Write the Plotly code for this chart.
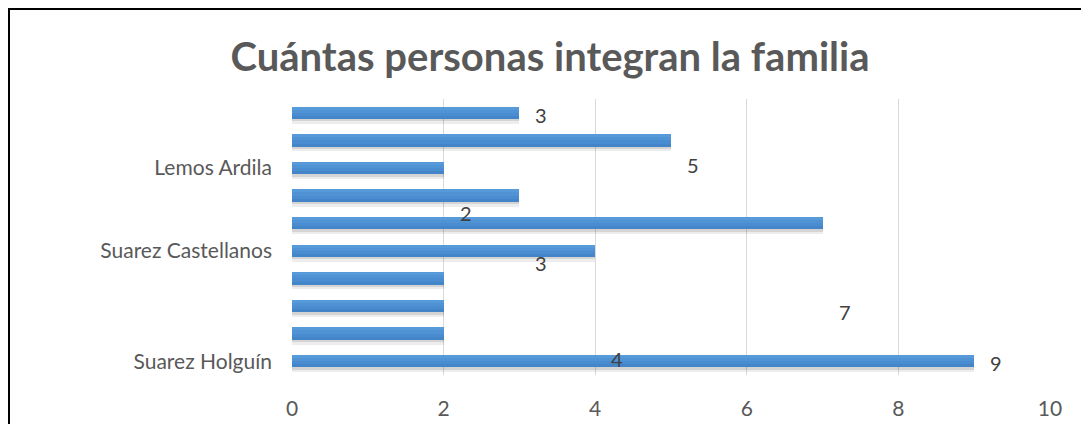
import plotly.graph_objects as go

# Bars listed from bottom (first category) to top
values = [9, 2, 2, 2, 4, 7, 3, 2, 5, 3]
positions = list(range(len(values)))
tick_positions = [0, 4, 7]
tick_labels = ["Suarez Holguín", "Suarez Castellanos", "Lemos Ardila"]

# Stray data labels as they appear in the chart
label_values = [3, 5, 2, 3, 7, 4, 9]
label_rows = [8.93, 7.12, 5.38, 3.57, 1.79, 0.09, -0.05]

title = "Cuántas personas integran la familia"
font_family = "Lato, 'Open Sans', sans-serif"
grey = "#595959"

bw = 0.45
fig = go.Figure()
# soft shadow under each bar
fig.add_trace(go.Bar(
    x=values, y=positions, orientation="h",
    marker=dict(color="rgba(0,0,0,0.07)", line=dict(width=0)),
    width=bw + 0.1, offset=-bw / 2 - 0.17, hoverinfo="skip",
))
fig.add_trace(go.Bar(
    x=values, y=positions, orientation="h",
    marker=dict(color="rgba(0,0,0,0.10)", line=dict(width=0)),
    width=bw, offset=-bw / 2 - 0.09, hoverinfo="skip",
))
# main bar with a stepped vertical gradient
shades = [("#4484C9", 1.0), ("#4A8CD0", 0.75), ("#5093D5", 0.5), ("#579AD9", 0.25)]
for col, frac in shades:
    fig.add_trace(go.Bar(
        x=values, y=positions, orientation="h",
        marker=dict(color=col, line=dict(width=0)),
        width=bw * frac, offset=bw / 2 - bw * frac,
        hoverinfo="x" if frac == 1.0 else "skip",
    ))

for v, r in zip(label_values, label_rows):
    fig.add_annotation(x=v, y=r, text=str(v), showarrow=False,
                       xanchor="left", xshift=14,
                       font=dict(size=20, color="#404040", family=font_family))

fig.add_shape(type="rect", xref="paper", yref="paper",
              x0=-284 / 758 + 1 / 758, x1=(1075 - 284) / 758,
              y0=-0.3, y1=1 + 90 / 276,
              line=dict(color="black", width=2), fillcolor="rgba(0,0,0,0)")

fig.update_layout(
    width=1089, height=424,
    margin=dict(l=284, r=1089 - 284 - 758, t=91, b=424 - 91 - 276),
    barmode="overlay", bargap=0,
    paper_bgcolor="white", plot_bgcolor="white",
    showlegend=False,
    title=dict(text=title, x=(550 - 8) / 1089, xref="container", xanchor="center",
               y=0.884, yref="container", yanchor="middle",
               font=dict(size=40, color=grey, family=font_family, weight="bold")),
    font=dict(family=font_family, color=grey, size=21),
)
fig.update_xaxes(range=[0, 10], dtick=2, showgrid=True, gridcolor="#D9D9D9",
                 gridwidth=1, zeroline=False, showline=False,
                 tickfont=dict(size=21, color=grey), ticks="", ticklabelstandoff=19)
fig.update_yaxes(range=[-0.5, 9.5], tickvals=tick_positions, ticktext=tick_labels,
                 showgrid=False, zeroline=False, showline=False, ticks="",
                 tickfont=dict(size=21, color=grey), ticklabelstandoff=19)

fig.write_html("out.html")
